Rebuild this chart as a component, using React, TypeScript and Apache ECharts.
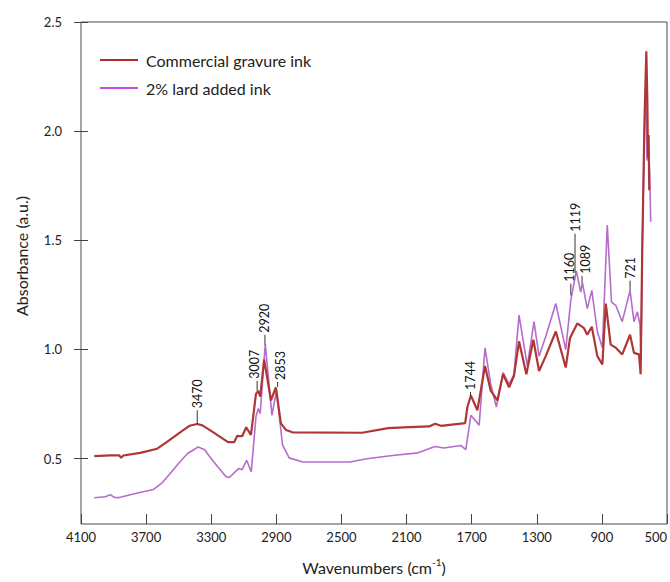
import React, { useEffect, useRef } from "react";
import * as echarts from "echarts";

const FONT = "Lato, 'Open Sans', 'DejaVu Sans', sans-serif";

// x-axis tick labels (wavenumbers, cm-1) and y-axis ticks (absorbance)
const xTicks = [500, 900, 1300, 1700, 2100, 2500, 2900, 3300, 3700, 4100];
const yTicks = [0.5, 1.0, 1.5, 2.0, 2.5];

// Commercial gravure ink spectrum
const commercialWavenumber = [
  4018, 3920, 3865, 3853, 3840, 3736, 3632, 3578, 3527, 3476, 3434, 3386, 3354, 3289, 3197, 3159, 3140, 3110, 3085, 3056,
  3025, 3011, 2999, 2975, 2933, 2903, 2872, 2841, 2801, 2373, 2213, 2082, 1961, 1925, 1888, 1740, 1726, 1705,
  1665, 1618, 1583, 1542, 1507, 1470, 1440, 1409, 1364, 1321, 1286, 1245, 1183, 1122, 1096, 1051, 1010, 990,
  962, 928, 897, 876, 846, 815, 775, 727, 703, 672, 662, 652, 638, 627, 621, 617, 613, 609,
];
const commercialAbs = [
  0.511, 0.514, 0.514, 0.503, 0.514, 0.526, 0.545, 0.573, 0.6, 0.628, 0.65, 0.658, 0.652, 0.621, 0.575, 0.575, 0.604, 0.602, 0.643, 0.608,
  0.796, 0.81, 0.783, 0.954, 0.766, 0.826, 0.661, 0.631, 0.62, 0.618, 0.639, 0.644, 0.647, 0.659, 0.65, 0.662, 0.736, 0.789,
  0.721, 0.924, 0.811, 0.766, 0.886, 0.826, 0.879, 1.037, 0.886, 1.044, 0.901, 0.969, 1.082, 0.917, 1.052, 1.119, 1.097, 1.067,
  1.104, 0.969, 0.931, 1.21, 1.022, 1.008, 0.977, 1.067, 0.984, 0.977, 0.886, 1.459, 2.059, 2.366, 2.149, 1.878, 1.982, 1.729,
];

// 2% lard added ink spectrum
const lardWavenumber = [
  4018, 3951, 3920, 3895, 3865, 3760, 3656, 3600, 3552, 3500, 3447, 3381, 3340, 3315, 3260, 3210, 3189, 3132, 3110, 3082, 3054, 3025,
  3011, 2999, 2968, 2927, 2899, 2862, 2821, 2738, 2449, 2344, 2187, 2029, 1925, 1869, 1767, 1736, 1705, 1654,
  1618, 1583, 1548, 1507, 1470, 1440, 1409, 1358, 1317, 1286, 1245, 1183, 1122, 1091, 1057, 1030, 1020, 990,
  962, 928, 897, 867, 841, 815, 775, 727, 703, 682, 666, 660, 652, 638, 627, 623, 617, 606, 600,
];
const lardAbs = [
  0.32, 0.325, 0.334, 0.322, 0.321, 0.341, 0.358, 0.39, 0.431, 0.478, 0.522, 0.553, 0.54, 0.514, 0.462, 0.418, 0.413, 0.454, 0.449, 0.492, 0.438, 0.693,
  0.729, 0.706, 1.025, 0.698, 0.811, 0.563, 0.503, 0.484, 0.484, 0.499, 0.514, 0.526, 0.555, 0.548, 0.56, 0.541, 0.698, 0.653,
  1.007, 0.841, 0.736, 0.894, 0.841, 0.886, 1.157, 0.924, 1.127, 0.969, 1.059, 1.21, 0.999, 1.225, 1.36, 1.262, 1.307, 1.187,
  1.27, 1.082, 1.007, 1.57, 1.217, 1.202, 1.127, 1.27, 1.127, 1.172, 1.112, 0.95, 1.472, 2.013, 2.179, 1.865, 1.968, 1.802, 1.585,
];

// Peak annotations
const peakLabels = ["3470", "3007", "2920", "2853", "1744", "1160", "1119", "1089", "721"];
const peakWavenumber = [3386, 3018, 2970, 2892, 1707, 1091, 1065, 1022, 727];
const peakLeaderFrom = [0.658, 0.811, 1.022, 0.828, 0.787, 1.247, 1.351, 1.306, 1.27];
const peakLeaderTo = [0.721, 0.856, 1.067, 0.851, 0.805, 1.301, 1.53, 1.337, 1.315];
const peakTextWavenumber = [3386, 3035, 2970, 2875, 1707, 1096, 1065, 1002, 727];

const pairs = (xs: number[], ys: number[]) => xs.map((x, i) => [x, ys[i]]);

export default function App() {
  const ref = useRef<HTMLDivElement>(null);
  useEffect(() => {
    if (!ref.current) return;
    const chart = echarts.init(ref.current, undefined, { renderer: "svg" });
    const annotationData = peakLabels.map((_, i) => [
      peakWavenumber[i],
      peakLeaderFrom[i],
      peakLeaderTo[i],
      peakTextWavenumber[i],
    ]);
    chart.setOption({
      animation: false,
      backgroundColor: "#ffffff",
      textStyle: { fontFamily: FONT },
      grid: {
        left: 81,
        top: 22,
        right: 2,
        bottom: 51,
        show: true,
        borderColor: "#4a4a4a",
        borderWidth: 1,
        backgroundColor: "transparent",
      },
      legend: {
        orient: "vertical",
        left: 95,
        top: 47,
        itemWidth: 38,
        itemHeight: 2,
        itemGap: 12,
        icon: "rect",
        textStyle: { fontSize: 16, color: "#222", fontFamily: FONT, padding: [0, 0, 0, 3] },
        data: [
          { name: "Commercial gravure ink", itemStyle: { color: "#b02a2a" } },
          { name: "2% lard added ink", itemStyle: { color: "#c24de6" } },
        ],
      },
      xAxis: {
        type: "value",
        min: 500,
        max: 4100,
        inverse: true,
        axisLine: { show: false },
        axisTick: { show: true, inside: true, length: 10, lineStyle: { color: "#444" }, customValues: xTicks },
        axisLabel: {
          customValues: xTicks,
          formatter: (v: number) => String(v),
          fontSize: 13,
          color: "#222",
          margin: 6,
          fontFamily: FONT,
          alignMinLabel: "right",
        },
        splitLine: { show: false },
        name: "Wavenumbers (cm{sup|-1})",
        nameLocation: "middle",
        nameGap: 33,
        nameTextStyle: {
          fontSize: 16,
          color: "#222",
          fontFamily: FONT,
          lineHeight: 20,
          rich: { sup: { fontSize: 10, verticalAlign: "top", lineHeight: 20, color: "#222", fontFamily: FONT } },
        },
      },
      yAxis: {
        type: "value",
        min: 0.2,
        max: 2.5,
        offset: -7,
        axisLine: { show: false },
        axisTick: { show: true, length: 14, lineStyle: { color: "#444" }, customValues: yTicks },
        axisLabel: {
          customValues: yTicks,
          formatter: (v: number) => v.toFixed(1),
          fontSize: 13,
          color: "#222",
          margin: 26,
          fontFamily: FONT,
        },
        splitLine: { show: false },
      },
      graphic: [
        {
          type: "text",
          x: 21,
          y: 256,
          rotation: Math.PI / 2,
          style: {
            text: "Absorbance (a.u.)",
            fontSize: 16,
            fontFamily: FONT,
            fill: "#222",
            textAlign: "center",
            textVerticalAlign: "middle",
            align: "center",
            verticalAlign: "middle",
          },
        },
      ],
      series: [
        {
          name: "2% lard added ink",
          type: "line",
          data: pairs(lardWavenumber, lardAbs),
          showSymbol: false,
          symbol: "none",
          lineStyle: { color: "#b56ccb", width: 1.6 },
          itemStyle: { color: "#b56ccb" },
          z: 2,
        },
        {
          name: "Commercial gravure ink",
          type: "line",
          data: pairs(commercialWavenumber, commercialAbs),
          showSymbol: false,
          symbol: "none",
          lineStyle: { color: "#b03636", width: 2.2 },
          itemStyle: { color: "#b03636" },
          z: 3,
        },
        {
          type: "custom",
          silent: true,
          z: 5,
          data: annotationData,
          encode: { x: [0, 3], y: [1, 2] },
          renderItem: (params: any, api: any) => {
            const i = params.dataIndex;
            const p0 = api.coord([api.value(0), api.value(1)]);
            const p1 = api.coord([api.value(0), api.value(2)]);
            const pt = api.coord([api.value(3), api.value(2)]);
            return {
              type: "group",
              children: [
                {
                  type: "line",
                  shape: { x1: p0[0], y1: p0[1], x2: p1[0], y2: p1[1] },
                  style: { stroke: "#333", lineWidth: 1 },
                },
                {
                  type: "text",
                  x: pt[0],
                  y: pt[1] - 2,
                  rotation: Math.PI / 2,
                  style: {
                    text: peakLabels[i],
                    fontSize: 12.5,
                    fontFamily: FONT,
                    fill: "#111",
                    textAlign: "left",
                    textVerticalAlign: "middle",
                    align: "left",
                    verticalAlign: "middle",
                  },
                },
              ],
            };
          },
        },
      ],
    });
    return () => chart.dispose();
  }, []);
  return (
    <div
      ref={ref}
      style={{ position: "absolute", left: 0, top: 0, width: 670, height: 582, background: "#fff" }}
    />
  );
}
